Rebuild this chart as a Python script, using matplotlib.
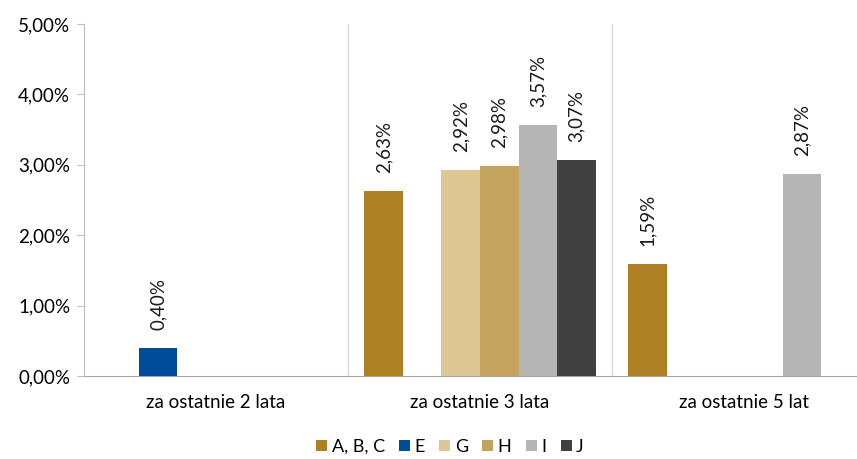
import numpy as np
import matplotlib.pyplot as plt
from matplotlib.ticker import FuncFormatter

plt.rcParams['font.family'] = ['Lato', 'DejaVu Sans']

categories = ['za ostatnie 2 lata', 'za ostatnie 3 lata', 'za ostatnie 5 lat']
series = ['A, B, C', 'E', 'G', 'H', 'I', 'J']
values = {
    'A, B, C': [None, 2.63, 1.59],
    'E': [0.40, None, None],
    'G': [None, 2.92, None],
    'H': [None, 2.98, None],
    'I': [None, 3.57, 2.87],
    'J': [None, 3.07, None],
}
colors = ['#AD8024', '#004C99', '#DCC795', '#C4A35E', '#B5B5B5', '#404040']

fig = plt.figure(figsize=(8.57, 4.59), dpi=100)
# os x wychodzi poza prawa krawedz obrazka, jak w oryginale
ax = fig.add_axes([84 / 857, 83 / 459, 792 / 857, 352 / 459])

x = np.arange(len(categories))
w = 0.146
for i, (name, col) in enumerate(zip(series, colors)):
    vals = values[name]
    for j, v in enumerate(vals):
        if v is None:
            continue
        xpos = x[j] + (i - 2.5) * w
        ax.bar(xpos, v, width=w, color=col, zorder=3)
        ax.annotate(f'{v:.2f}%'.replace('.', ','), (xpos, v),
                    xytext=(0, 13), textcoords='offset points',
                    rotation=90, ha='center', va='bottom', fontsize=13.5,
                    color='#1a1a1a')
    ax.bar(np.nan, np.nan, color=col, label=name)

ax.set_xlim(-0.5, 2.5)
ax.set_ylim(0, 5)
ax.set_yticks(np.arange(0, 5.01, 1))
ax.yaxis.set_major_formatter(FuncFormatter(lambda v, p: f'{v:.2f}%'.replace('.', ',')))
ax.set_xticks(x)
ax.set_xticklabels(categories, fontsize=13.5)
ax.tick_params(axis='x', length=0, pad=13)
ax.tick_params(axis='y', length=5, color='#BFBFBF', labelsize=13.5, pad=5)
for b in [0.5, 1.5]:
    ax.axvline(b, color='#D9D9D9', lw=1, zorder=1)

for s in ['top', 'right']:
    ax.spines[s].set_visible(False)
ax.spines['left'].set_color('#BFBFBF')
ax.spines['bottom'].set_color('#A6A6A6')

fig.legend(loc='center', bbox_to_anchor=(450 / 857, 12 / 459), ncol=6,
           frameon=False, fontsize=13, handlelength=0.6, handleheight=0.6,
           handletextpad=0.25, columnspacing=0.8)

fig.savefig('out.png', dpi=100)
